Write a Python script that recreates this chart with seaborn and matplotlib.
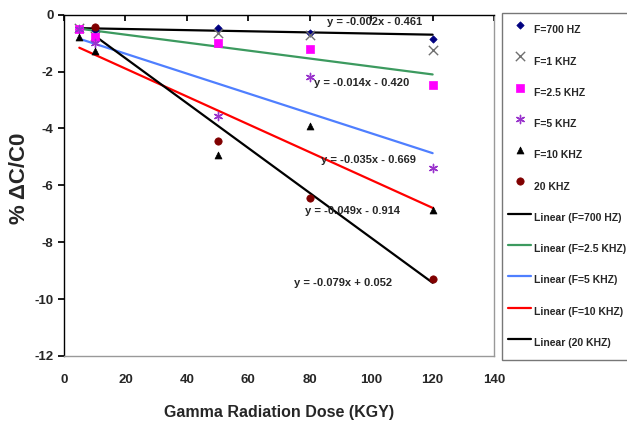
import numpy as np
import matplotlib
matplotlib.use("Agg")
import matplotlib.pyplot as plt
import seaborn as sns

# doses (KGY)
dose = [5, 10, 50, 80, 120]
dose_20k = [10, 50, 80, 120]

# % dC/C0
f700 = [-0.50, -0.55, -0.46, -0.64, -0.85]
f1k = [-0.45, -0.75, -0.63, -0.70, -1.23]
f2_5k = [-0.50, -0.77, -1.00, -1.20, -2.46]
f5k = [-0.50, -1.00, -3.55, -2.18, -5.40]
f10k = [-0.77, -1.26, -4.93, -3.90, -6.87]
f20k = [-0.42, -4.44, -6.45, -9.30]

# trendline equations shown on chart (slope, intercept, x-range)
fit_names = ["Linear (F=700 HZ)", "Linear (F=2.5 KHZ)", "Linear (F=5 KHZ)",
             "Linear (F=10 KHZ)", "Linear (20 KHZ)"]
fit_slope = [-0.002, -0.014, -0.035, -0.049, -0.079]
fit_icept = [-0.461, -0.420, -0.669, -0.914, 0.052]
fit_x0 = [5, 5, 5, 5, 10]
fit_x1 = [120, 120, 120, 120, 120]
fit_text = ["y = -0.002x - 0.461", "y = -0.014x - 0.420", "y = -0.035x - 0.669",
            "y = -0.049x - 0.914", "y = -0.079x + 0.052"]
text_x = [101, 97, 99, 94, 91]
text_y = [-0.25, -2.4, -5.1, -6.9, -9.45]

sns.set_theme(style="white")
plt.rcParams['font.family'] = ['Liberation Sans', 'DejaVu Sans']
plt.rcParams['font.weight'] = 'bold'
plt.rcParams['axes.unicode_minus'] = False

fig = plt.figure(figsize=(6.27, 4.34), dpi=100)
ax = fig.add_axes([0.102, 0.180, 0.686, 0.786])

# scatter series
series = [
    ("F=700 HZ", dose, f700, "D", "#000080", 14, 0.5),
    ("F=1 KHZ", dose, f1k, "x", "#707070", 45, 1.0),
    ("F=2.5 KHZ", dose, f2_5k, "s", "#FF00FF", 30, 0.5),
    ("F=5 KHZ", dose, f5k, (6, 2, 0), "#9933CC", 35, 1.0),
    ("F=10 KHZ", dose, f10k, "^", "#000000", 25, 0.5),
    ("20 KHZ", dose_20k, f20k, "o", "#800000", 28, 0.5),
]
for name, xs, ys, mk, col, sz, lw in series:
    sns.scatterplot(x=xs, y=ys, marker=mk, color=col, s=sz, linewidth=lw,
                    edgecolor=col, ax=ax, label=name, zorder=3)

fit_colors = ["#000000", "#3C9A5F", "#4F7FFF", "#FF0000", "#000000"]
for name, m, b, x0, x1, col in zip(fit_names, fit_slope, fit_icept, fit_x0, fit_x1, fit_colors):
    xs = np.array([x0, x1])
    sns.lineplot(x=xs, y=m * xs + b, color=col, linewidth=1.6, ax=ax, label=name, zorder=2)

for t, tx, ty in zip(fit_text, text_x, text_y):
    ax.text(tx, ty, t, ha="center", va="center", fontsize=8, fontweight="bold", zorder=4)

ax.set_xlim(0, 140)
ax.set_ylim(-12, 0)
ax.set_xticks(np.arange(0, 141, 20))
ax.set_yticks(np.arange(-12, 1, 2))
ax.tick_params(axis="x", top=True, bottom=False, labeltop=False, labelbottom=True,
               direction="in", length=4, pad=13, labelsize=9.5, color="black")
ax.tick_params(axis="y", left=True, direction="out", length=4, labelsize=9.5, color="black")
for lab in ax.get_xticklabels() + ax.get_yticklabels():
    lab.set_fontweight("bold")

for sp in ["top", "left"]:
    ax.spines[sp].set_color("black")
    ax.spines[sp].set_linewidth(1.0)
for sp in ["right", "bottom"]:
    ax.spines[sp].set_color("#999999")
    ax.spines[sp].set_linewidth(1.0)

ax.set_xlabel("Gamma Radiation Dose (KGY)", fontsize=11.5, fontweight="bold", labelpad=14)
ax.set_ylabel("% ΔC/C0", fontsize=16, fontweight="bold")
ax.yaxis.set_label_coords(-0.079, 0.522)

h, l = ax.get_legend_handles_labels()
order = [n for n, *_ in series] + fit_names
hd = dict(zip(l, h))
leg = ax.legend([hd[n] for n in order], order, loc="upper left",
                bbox_to_anchor=(502 / 627, 1 - 13 / 434), bbox_transform=fig.transFigure,
                borderaxespad=0, fontsize=7.5, labelspacing=0.87, handlelength=2.2,
                handleheight=2.9, handletextpad=0.3, borderpad=0.6,
                frameon=True, fancybox=False)
leg.get_frame().set_edgecolor("#555555")
leg.get_frame().set_linewidth(1.0)
for t in leg.get_texts():
    t.set_fontweight("bold")

fig.savefig("out.png", dpi=100)
